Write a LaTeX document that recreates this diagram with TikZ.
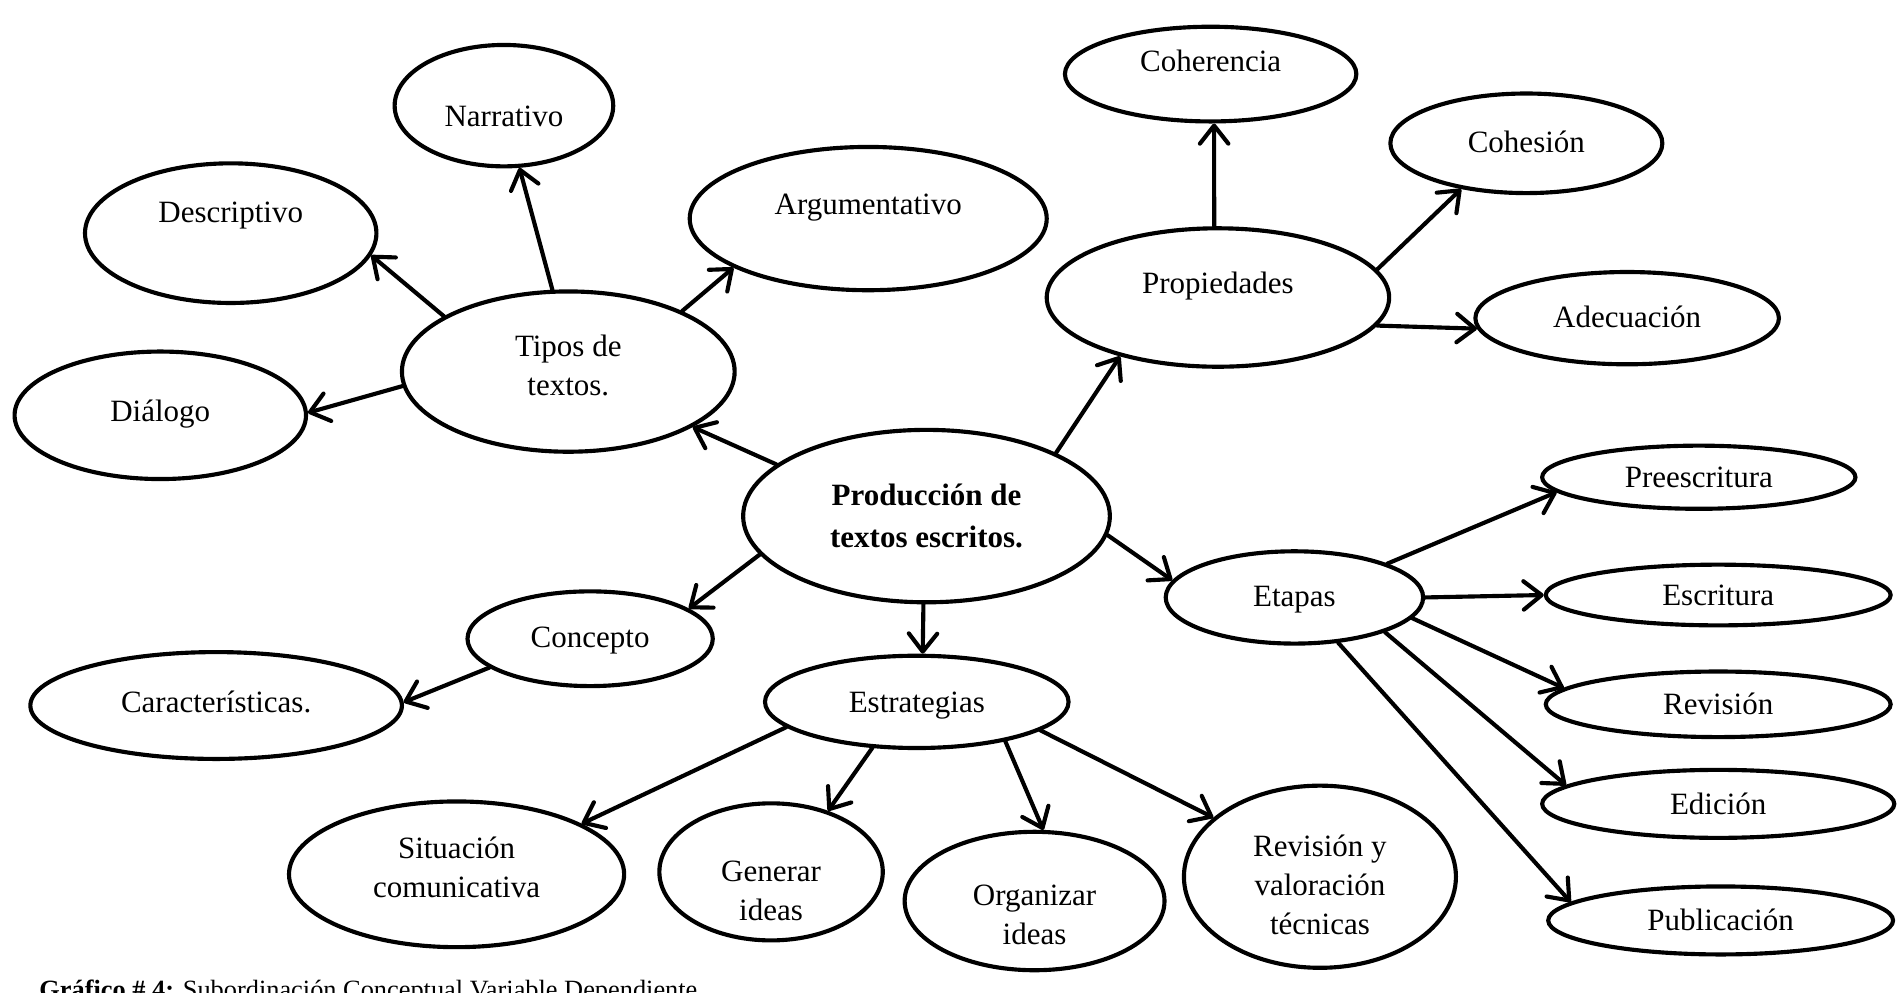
\documentclass[tikz,border=0pt]{standalone}
\usepackage{fontspec}
\setmainfont{Liberation Serif}
\usetikzlibrary{shapes.geometric,arrows.meta}
\tikzset{
  bubble/.style 2 args={ellipse, draw=black, line width=1.6pt, minimum width=#1*0.47pt, minimum height=#2*0.47pt, inner sep=0pt, align=center, font=\fontsize{12}{15}\selectfont},
  tx/.style 2 args={text height=#1, text depth=#2},
  one/.style={tx={9pt}{2pt}},
  link/.style={line width=1.6pt, line cap=round, -{Straight Barb[length=7pt,width=11pt,round]}}
}

\begin{document}
\begin{tikzpicture}[x=0.47pt,y=-0.47pt]
\useasboundingbox (0,0) rectangle (1568,817);
% central node
\node[bubble={302}{142}, font=\bfseries\fontsize{12}{16.5}\selectfont] (prod) at (763,425) {Producción de\\textos escritos.};

% tipos de textos
\node[bubble={274}{132}] (tipos) at (468,306) {Tipos de\\textos.\rule[-4.7pt]{0pt}{4.7pt}};
\node[bubble={240}{115}, tx={9pt}{17pt}] (desc) at (190,192) {Descriptivo};
\node[bubble={180}{100}, tx={18.4pt}{2pt}] (narr) at (415,87) {Narrativo};
\node[bubble={294}{118}, tx={9pt}{12pt}] (arg) at (715,180) {Argumentativo};
\node[bubble={240}{105}, tx={9pt}{4pt}] (dial) at (132,342) {Diálogo};

% propiedades
\node[bubble={282}{114}, tx={9pt}{12pt}] (prop) at (1003,245) {Propiedades};
\node[bubble={240}{78}, tx={9pt}{10.7pt}] (coher) at (997,61) {Coherencia};
\node[bubble={224}{82}, one] (cohes) at (1257,118) {Cohesión};
\node[bubble={250}{76}, one] (adec) at (1340,262) {Adecuación};

% etapas
\node[bubble={212}{76}, one] (etap) at (1066,492) {Etapas};
\node[bubble={258}{52}, tx={10pt}{2pt}] (pre) at (1399,393) {Preescritura};
\node[bubble={284}{50}, tx={10pt}{2pt}] (esc) at (1415,490) {Escritura};
\node[bubble={284}{54}, tx={10pt}{2pt}] (rev) at (1415,580) {Revisión};
\node[bubble={290}{56}, tx={10pt}{2pt}] (edi) at (1415,662) {Edición};
\node[bubble={284}{56}, tx={10pt}{2pt}] (pub) at (1417,758) {Publicación};

% concepto
\node[bubble={202}{78}, tx={9pt}{2.5pt}] (conc) at (486,526) {Concepto};
\node[bubble={306}{88}, tx={9pt}{3.5pt}] (car) at (178,581) {Características.};

% estrategias
\node[bubble={250}{76}, tx={9pt}{0.5pt}] (estr) at (755,578) {Estrategias};
\node[bubble={276}{120}] (sit) at (376,720) {Situación\\comunicativa\rule[-5.6pt]{0pt}{5.6pt}};
\node[bubble={184}{100}] (gen) at (635,718) {\rule{0pt}{22.4pt}Generar\\ideas};
\node[bubble={214}{114}] (org) at (852,742) {\rule{0pt}{18.6pt}Organizar\\ideas};
\node[bubble={224}{150}] (revt) at (1087,722) {\rule{0pt}{14.6pt}Revisión y\\valoración\\técnicas};

\node[anchor=base west, font=\fontsize{10.2}{12}\selectfont] (cap) at (25,822) {\textbf{Gráfico \# 4:} Subordinación Conceptual Variable Dependiente};

\draw[link] (prod.161) -- (tipos.-24);
\draw[link] (prod.26) -- (prop.-149);
\draw[link] (prod.-6) -- (etap.172);
\draw[link] (prod.193) -- (conc.17);
\draw[link] (prod.-92) -- (estr.83);

\draw[link] (tipos.156) -- (desc.-9);
\draw[link] (tipos.101) -- (narr.-76);
\draw[link] (tipos.28) -- (arg.200);
\draw[link] (tipos.185) -- (dial.1);

\draw[link] (prop.93) -- (coher.-86);
\draw[link] (prop.10) -- (cohes.215);
\draw[link] (prop.-10) -- (adec.184);

\draw[link] (etap.20) -- (pre.186);
\draw[link] (etap.east) -- (esc.west);
\draw[link] (etap.-10) -- (rev.174);
\draw[link] (etap.-21) -- (edi.173);
\draw[link] (etap.-46) -- (pub.173);

\draw[link] (conc.196) -- (car.1);

\draw[link] (estr.191) -- (sit.22);
\draw[link] (estr.226) -- (gen.47);
\draw[link] (estr.-24) -- (org.83);
\draw[link] (estr.-13) -- (revt.151);
\end{tikzpicture}
\end{document}
